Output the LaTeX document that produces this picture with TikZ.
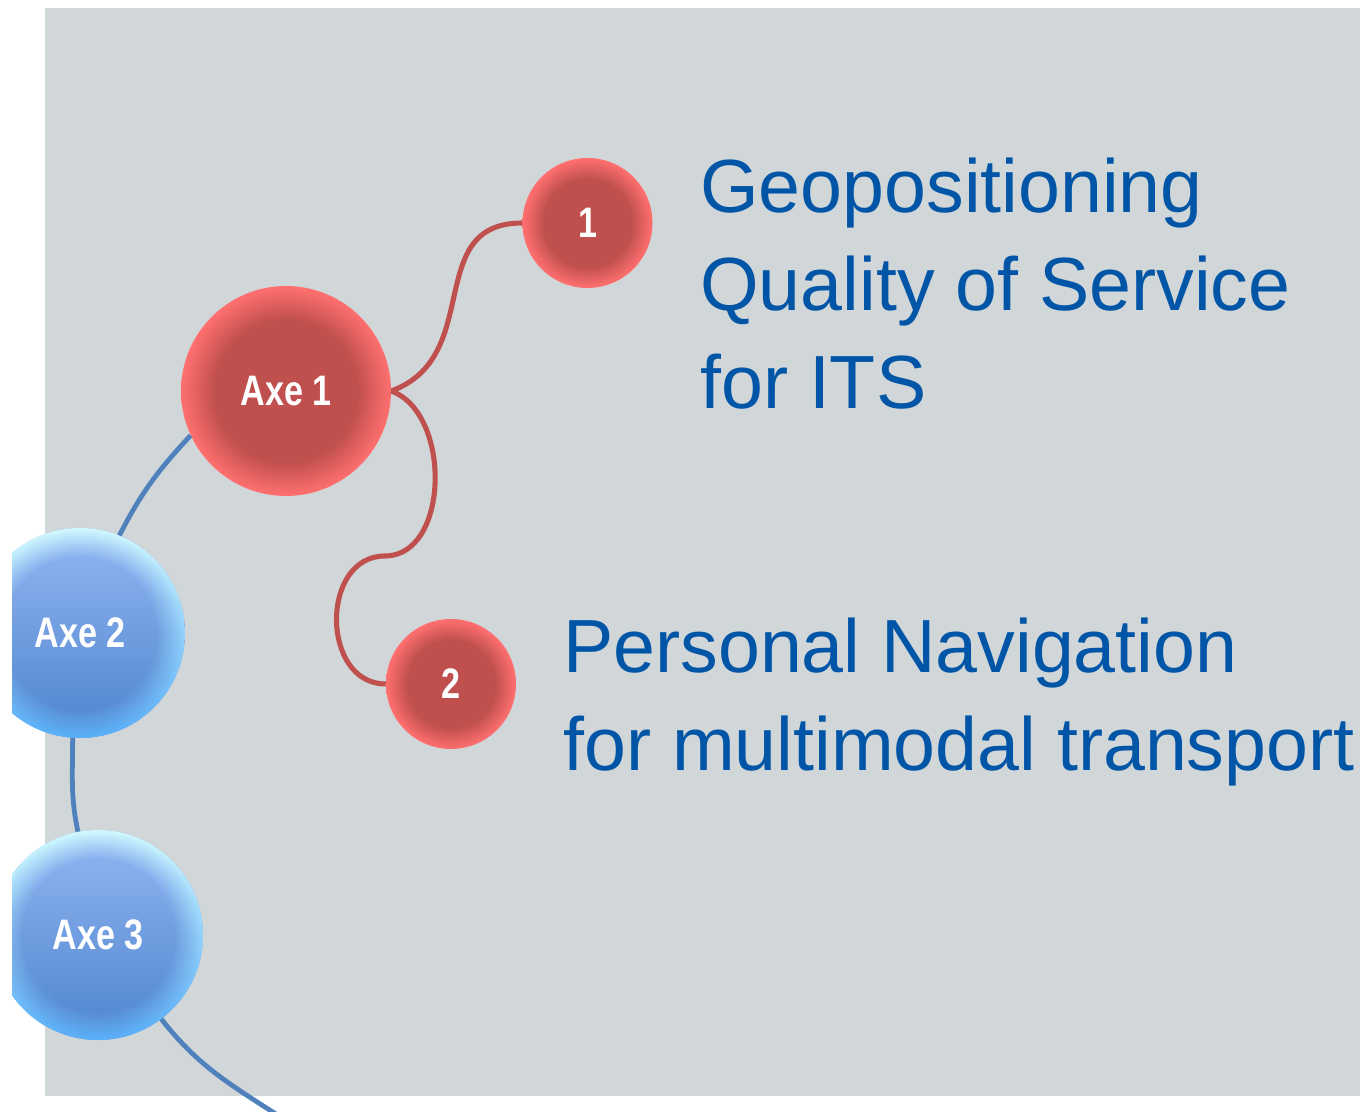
\documentclass[tikz,border=0pt]{standalone}
\usepackage{fontspec}
\setmainfont{Liberation Sans}
\newfontfamily\axefont[FakeStretch=0.8]{Liberation Sans}
\usetikzlibrary{fadings}

\definecolor{panelgray}{RGB}{209,214,217}
\definecolor{itsblue}{RGB}{0,85,166}
\definecolor{axered}{RGB}{192,80,77}
\definecolor{axerim}{RGB}{255,112,112}
\definecolor{axebluetop}{RGB}{146,183,244}
\definecolor{axebluebot}{RGB}{78,132,204}
\definecolor{rimbluetop}{RGB}{215,255,255}
\definecolor{rimbluebot}{RGB}{90,180,255}
\definecolor{linkblue}{RGB}{79,129,189}
\definecolor{linkred}{RGB}{192,80,77}

\pgfdeclareradialshading{redball}{\pgfpointorigin}{color(0bp)=(axered); color(17bp)=(axered); color(25bp)=(axerim); color(50bp)=(axerim)}
\pgfdeclareradialshading{rimmask}{\pgfpointorigin}{color(0bp)=(black); color(18bp)=(black); color(25bp)=(black!5); color(50bp)=(black!5)}
\pgfdeclarefading{rimglow}{\pgfuseshading{rimmask}}

\begin{document}
\begin{tikzpicture}[x=0.75pt,y=0.75pt,
  ball red/.style={circle, inner sep=0pt, minimum size=#1, shading=redball, text=white, font=\axefont\bfseries\fontsize{32}{32}\selectfont},
  ball blue/.style={circle, inner sep=0pt, minimum size=#1, top color=axebluetop, bottom color=axebluebot, postaction={top color=rimbluetop, bottom color=rimbluebot, path fading=rimglow}, text=white, font=\axefont\bfseries\fontsize{32}{32}\selectfont},
  link blue/.style={draw=linkblue, line width=3.6pt},
  link red/.style={draw=linkred, line width=3.8pt},
  topic/.style={anchor=north west, inner sep=0pt, align=left, text=itsblue, font=\fontsize{56.5}{73.5}\selectfont}]
\useasboundingbox (0,0) rectangle (1360,1112);

%Shape: Rectangle [panel]
\fill [panelgray] (45,16) rectangle (1360,1104);

%Shape: Circles [axes]
\begin{scope}
\clip (12,0) rectangle (1360,1112);
\draw (286,721) node (axeone) [ball red=157.5pt] {Axe 1};
\draw (587.5,889) node (one) [ball red=97.5pt] {1};
\draw (451,428) node (two) [ball red=97.5pt] {2};
\draw (80,479) node (axetwo) [ball blue=157.5pt] {Axe 2};
\draw (98,177) node (axethree) [ball blue=157.5pt] {Axe 3};
\end{scope}

%Curve Lines [blue axis]
\coordinate (tail) at (282,-6);
\draw [link blue] (axeone.205) to[out=227,in=63] (axetwo.68);
\draw [link blue] (axetwo.266) to[out=270,in=102] (axethree.101);
\draw [link blue] (axethree.307) to[out=-52,in=147] (tail);

%Curve Lines [red branches]
\coordinate (fork) at (385,556);
\draw [link red] (axeone.east) to[out=20,in=180,looseness=1.2] (one.west);
\draw [link red] (axeone.east) to[out=-20,in=0] (fork) to[out=180,in=180,looseness=1.3] (two.west);

% Text Node
\draw (700,954) node (geo) [topic] {Geopositioning\\Quality of Service\\for ITS};

% Text Node
\draw (563,494) node (pnav) [topic] {Personal Navigation\\for multimodal transport};

\end{tikzpicture}
\end{document}
